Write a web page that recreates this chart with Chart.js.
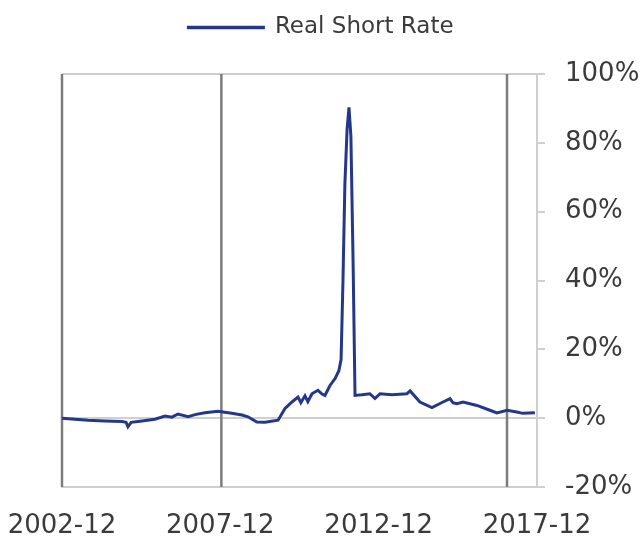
<!DOCTYPE html>
<html>
<head>
<meta charset="utf-8">
<script src="https://cdn.jsdelivr.net/npm/chart.js@4"></script>
<style>
  html, body { margin: 0; padding: 0; background: #fff; }
  #wrap { width: 642px; height: 544px; }
</style>
</head>
<body>
<div id="wrap"><canvas id="chart" width="642" height="544"></canvas></div>
<script>
// --- DATA (decimal years) ---
const years = [
  2002.92, 2003.33, 2003.74, 2004.27, 2004.81, 2004.94, 2005.00, 2005.10, 2005.38, 2005.85,
  2006.17, 2006.39, 2006.58, 2006.90, 2007.15, 2007.43, 2007.84, 2008.28, 2008.60, 2008.79,
  2009.07, 2009.33, 2009.74, 2009.96, 2010.18, 2010.37, 2010.46, 2010.59, 2010.68, 2010.81,
  2011.00, 2011.13, 2011.22, 2011.38, 2011.54, 2011.66, 2011.73, 2011.79, 2011.85, 2011.92,
  2011.98, 2012.04, 2012.11, 2012.17, 2012.39, 2012.64, 2012.80, 2012.96, 2013.34, 2013.81,
  2013.91, 2014.22, 2014.60, 2014.95, 2015.17, 2015.26, 2015.39, 2015.58, 2016.02, 2016.43,
  2016.65, 2016.97, 2017.28, 2017.47, 2017.85
];
const realShortRate = [
  0.0, -0.3, -0.6, -0.8, -1.0, -1.2, -2.5, -1.2, -0.9, -0.3,
  0.6, 0.3, 1.2, 0.4, 1.1, 1.6, 2.0, 1.4, 0.9, 0.4,
  -1.1, -1.2, -0.6, 2.8, 4.7, 6.1, 4.5, 6.5, 4.8, 7.1,
  8.1, 7.0, 6.6, 9.5, 11.5, 13.8, 17, 40, 68, 84,
  90.3, 82, 45, 6.6, 6.8, 7.1, 5.7, 7.1, 6.8, 7.1,
  7.9, 4.7, 3.1, 4.7, 5.7, 4.5, 4.2, 4.7, 3.7, 2.3,
  1.5, 2.3, 1.8, 1.4, 1.6
];

const xTickValues = [2002.917, 2007.917, 2012.917, 2017.917];
const xTickLabels = ['2002-12', '2007-12', '2012-12', '2017-12'];
const markerYears = [2002.917, 2007.95, 2016.97];

const yMin = -20, yMax = 100, yStep = 20;
const fullGridValues = [-20, 0, 100];

// --- STYLE ---
const lineColor = '#25378a';
const textColor = '#3b3b3b';
const lightGrid = '#cfcfcf';
const markerColor = '#7d7d7d';
const fontFamily = '"DejaVu Sans", sans-serif';

// vertical marker lines
const markerLines = {
  id: 'markerLines',
  beforeDatasetsDraw(chart) {
    const { ctx, chartArea, scales } = chart;
    ctx.save();
    ctx.strokeStyle = markerColor;
    ctx.lineWidth = 2.5;
    markerYears.forEach(v => {
      const x = scales.x.getPixelForValue(v);
      ctx.beginPath();
      ctx.moveTo(x, chartArea.top);
      ctx.lineTo(x, chartArea.bottom);
      ctx.stroke();
    });
    ctx.restore();
  }
};

// extra room under the legend
const legendSpacing = {
  id: 'legendSpacing',
  beforeInit(chart) {
    const fit = chart.legend.fit;
    chart.legend.fit = function () {
      fit.bind(chart.legend)();
      this.height += 25;
    };
  }
};

const data = years.map((x, i) => ({ x, y: realShortRate[i] }));

new Chart(document.getElementById('chart'), {
  type: 'line',
  data: {
    datasets: [{
      label: 'Real Short Rate',
      data,
      borderColor: lineColor,
      backgroundColor: lineColor,
      borderWidth: 3,
      pointRadius: 0,
      tension: 0,
      fill: false
    }]
  },
  options: {
    responsive: false,
    animation: false,
    layout: { padding: { left: 0, right: 0, top: 2, bottom: 0 } },
    plugins: {
      legend: {
        display: true,
        position: 'top',
        labels: {
          color: textColor,
          font: { family: fontFamily, size: 23 },
          boxWidth: 75,
          boxHeight: 0.5,
          padding: 14
        }
      },
      tooltip: { enabled: false }
    },
    scales: {
      x: {
        type: 'linear',
        min: xTickValues[0],
        max: xTickValues[xTickValues.length - 1],
        afterBuildTicks: axis => { axis.ticks = xTickValues.map(v => ({ value: v })); },
        afterFit: axis => {
          axis.height = 57;
          axis.paddingLeft = 62;
          axis.paddingRight = 0;
        },
        ticks: {
          color: textColor,
          font: { family: fontFamily, size: 26 },
          padding: 24,
          maxRotation: 0,
          autoSkip: false,
          callback: (v, i) => xTickLabels[i]
        },
        grid: { display: false, drawTicks: false },
        border: { display: true, color: lightGrid, width: 2 }
      },
      y: {
        position: 'right',
        min: yMin,
        max: yMax,
        afterFit: axis => { axis.width = 105; },
        ticks: {
          stepSize: yStep,
          color: textColor,
          font: { family: fontFamily, size: 26 },
          padding: 20,
          callback: v => v + '%'
        },
        grid: {
          color: c => fullGridValues.includes(c.tick.value) ? lightGrid : 'rgba(0,0,0,0)',
          tickColor: lightGrid,
          tickLength: 8,
          lineWidth: 2
        },
        border: { display: true, color: lightGrid, width: 2 }
      }
    }
  },
  plugins: [markerLines, legendSpacing]
});
</script>
</body>
</html>
